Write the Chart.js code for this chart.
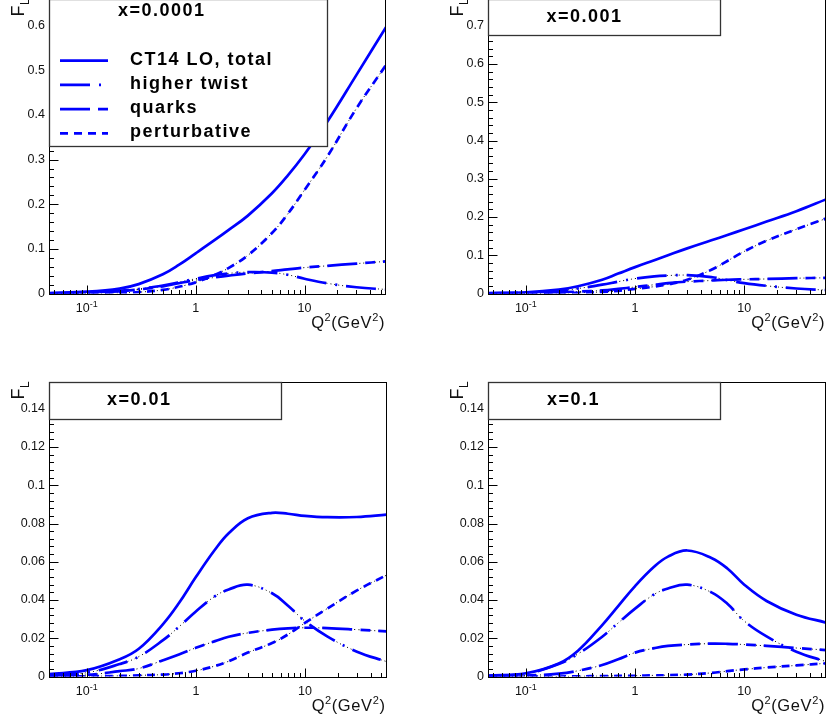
<!DOCTYPE html>
<html>
<head>
<meta charset="utf-8">
<script src="https://cdn.jsdelivr.net/npm/chart.js@4.4.0/dist/chart.umd.min.js"></script>
<style>
  html, body { margin: 0; padding: 0; background: #fff; }
  body { position: relative; width: 828px; height: 721px; overflow: hidden; }
  canvas { position: absolute; }
</style>
</head>
<body>
<canvas id="p1" width="414" height="360" style="left:0;top:-1px"></canvas>
<canvas id="p2" width="414" height="360" style="left:414px;top:-1px"></canvas>
<canvas id="p3" width="414" height="361" style="left:0;top:360px"></canvas>
<canvas id="p4" width="414" height="361" style="left:414px;top:360px"></canvas>
<script>
// Q^2 grid (GeV^2), shared by all panels
const q2 = [0.045, 0.1, 0.2, 0.3, 0.5, 0.7, 1, 1.5, 2, 3, 5, 7, 10, 16, 30, 56];

const seriesNames = ['CT14 LO, total', 'higher twist', 'quarks', 'perturbative'];
const panelTitles = ['x=0.0001', 'x=0.001', 'x=0.01', 'x=0.1'];

// x = 0.0001
const total1e4  = [0.001, 0.004, 0.011, 0.021, 0.043, 0.064, 0.09, 0.12, 0.142, 0.174, 0.224, 0.264, 0.312, 0.383, 0.49, 0.597];
const twist1e4  = [0.0005, 0.002, 0.006, 0.01, 0.018, 0.025, 0.033, 0.041, 0.045, 0.048, 0.047, 0.042, 0.033, 0.023, 0.014, 0.009];
const quarks1e4 = [0.0003, 0.0015, 0.005, 0.009, 0.016, 0.023, 0.03, 0.036, 0.04, 0.045, 0.05, 0.054, 0.058, 0.062, 0.067, 0.072];
const pert1e4   = [0, 0.0005, 0.0015, 0.003, 0.008, 0.015, 0.025, 0.042, 0.057, 0.085, 0.135, 0.178, 0.232, 0.305, 0.415, 0.512];

// x = 0.001
const total1e3  = [0.001, 0.003, 0.01, 0.019, 0.036, 0.052, 0.069, 0.087, 0.1, 0.118, 0.139, 0.153, 0.168, 0.188, 0.215, 0.246];
const twist1e3  = [0.0005, 0.002, 0.007, 0.013, 0.023, 0.031, 0.039, 0.045, 0.047, 0.048, 0.043, 0.035, 0.027, 0.02, 0.013, 0.009];
const quarks1e3 = [0.0002, 0.001, 0.003, 0.005, 0.008, 0.012, 0.017, 0.023, 0.027, 0.031, 0.034, 0.036, 0.037, 0.038, 0.04, 0.041];
const pert1e3   = [0, 0, 0.001, 0.002, 0.004, 0.007, 0.012, 0.018, 0.024, 0.036, 0.062, 0.085, 0.11, 0.138, 0.168, 0.196];

// x = 0.01
const total1e2  = [0.0012, 0.0033, 0.009, 0.0145, 0.0274, 0.0384, 0.052, 0.0664, 0.0749, 0.0828, 0.0856, 0.0851, 0.084, 0.0833, 0.0834, 0.0846];
const twist1e2  = [0.0005, 0.002, 0.0065, 0.0104, 0.019, 0.026, 0.034, 0.042, 0.0455, 0.048, 0.0435, 0.037, 0.029, 0.021, 0.013, 0.0078];
const quarks1e2 = [0.0002, 0.0008, 0.0028, 0.0042, 0.0085, 0.0115, 0.015, 0.0185, 0.0208, 0.0228, 0.0245, 0.0252, 0.0255, 0.0253, 0.0245, 0.0236];
const pert1e2   = [0, 0.0001, 0.0003, 0.0006, 0.001, 0.0017, 0.003, 0.0055, 0.008, 0.0125, 0.0175, 0.022, 0.028, 0.0355, 0.045, 0.053];

// x = 0.1
const total1e1  = [0.0005, 0.0017, 0.0068, 0.0135, 0.0269, 0.0368, 0.0473, 0.0575, 0.0627, 0.0659, 0.062, 0.0565, 0.048, 0.0395, 0.0323, 0.0282];
const twist1e1  = [0.0004, 0.0015, 0.0065, 0.0118, 0.0208, 0.028, 0.0355, 0.043, 0.046, 0.048, 0.044, 0.038, 0.029, 0.021, 0.013, 0.0078];
const quarks1e1 = [0.0001, 0.0005, 0.0015, 0.003, 0.006, 0.009, 0.0125, 0.0148, 0.016, 0.0167, 0.0172, 0.0171, 0.0167, 0.016, 0.0149, 0.0138];
const pert1e1   = [0, 0, 0, 0.0001, 0.0002, 0.0003, 0.0004, 0.0006, 0.0007, 0.001, 0.0019, 0.0028, 0.0037, 0.0047, 0.0058, 0.0069];

// axis ticks
const xTickValues = [0.1, 1, 10];
const xTickBase = ['10', '1', '10'];
const xTickSup = ['-1', '', ''];

const BLUE = '#0000ff';
const dashes = [[], [30, 9, 2, 9], [30, 8, 10, 8], [8, 6]];
const FONT = '"Liberation Sans", Arial, Helvetica, sans-serif';

function richText(ctx, parts, x, y, align) {
  let w = 0;
  parts.forEach(p => { ctx.font = p[1]; w += ctx.measureText(p[0]).width; });
  let cx = align === 'right' ? x - w : (align === 'center' ? x - w / 2 : x);
  ctx.textAlign = 'left';
  parts.forEach(p => {
    ctx.font = p[1];
    ctx.fillText(p[0], cx, y + (p[2] || 0));
    cx += ctx.measureText(p[0]).width;
  });
}

const rootFrame = {
  id: 'rootFrame',
  afterDatasetsDraw(chart, args, opts) {
    const { ctx, chartArea: a, scales: { x, y } } = chart;
    const L = Math.round(a.left) + 0.5, B = Math.round(a.bottom) + 0.5;
    const T = Math.round(a.top) + 0.5, R = Math.round(a.right) - 0.5;
    ctx.save();
    ctx.strokeStyle = '#000';
    ctx.lineWidth = 1;
    ctx.setLineDash([]);
    ctx.strokeRect(L, T, R - L, B - T);

    // y ticks (inside) and labels
    const minor = opts.yStep / 5;
    ctx.beginPath();
    for (let i = 0; i * minor <= y.max + 1e-9; i++) {
      const py = Math.round(y.getPixelForValue(i * minor)) + 0.5;
      ctx.moveTo(L, py);
      ctx.lineTo(L + (i % 5 === 0 ? 9 : 4.5), py);
    }
    // x ticks (log, inside)
    [0.01, 0.1, 1, 10].forEach(d => {
      for (let k = 1; k <= 9; k++) {
        const v = k * d;
        if (v < x.min || v > x.max) continue;
        const px = Math.round(x.getPixelForValue(v)) + 0.5;
        ctx.moveTo(px, B);
        ctx.lineTo(px, B - (k === 1 ? 9 : 4.5));
      }
    });
    ctx.stroke();

    ctx.fillStyle = '#111';
    ctx.textBaseline = 'middle';
    ctx.textAlign = 'right';
    ctx.font = '12.5px ' + FONT;
    for (let v = 0; v <= y.max + 1e-9; v += opts.yStep) {
      ctx.fillText(String(Math.round(v * 1000) / 1000), a.left - 4, y.getPixelForValue(v));
    }
    ctx.textBaseline = 'alphabetic';
    xTickValues.forEach((v, i) => {
      richText(ctx, [[xTickBase[i], '12.5px ' + FONT], [xTickSup[i], '9px ' + FONT, -5]],
        x.getPixelForValue(v), a.bottom + 18, 'center');
    });

    // axis titles
    ctx.letterSpacing = '0.6px';
    richText(ctx, [['Q', '16.5px ' + FONT], ['2', '11px ' + FONT, -7], ['(GeV', '16.5px ' + FONT],
      ['2', '11px ' + FONT, -7], [')', '16.5px ' + FONT]], a.right - 1, a.bottom + 34, 'right');
    ctx.letterSpacing = '0px';
    ctx.save();
    ctx.translate(a.left - 25, a.top + 17.5);
    ctx.rotate(-Math.PI / 2);
    ctx.font = '18px ' + FONT;
    ctx.fillText('F', 0, 0);
    const fw = ctx.measureText('F').width;
    ctx.font = '12px ' + FONT;
    ctx.fillText('L', fw + 0.5, 5);
    ctx.restore();

    // label box
    const bx = Math.round(a.left) + 0.5, by = Math.round(a.top) + 0.5;
    ctx.fillStyle = '#fff';
    ctx.fillRect(bx, by, opts.boxW, opts.boxH);
    ctx.strokeStyle = '#333';
    ctx.lineWidth = 1.3;
    ctx.strokeRect(bx, by, opts.boxW, opts.boxH);

    ctx.fillStyle = '#000';
    ctx.font = 'bold 18px ' + FONT;
    ctx.letterSpacing = '1.5px';
    ctx.textAlign = 'left';
    ctx.textBaseline = 'middle';
    ctx.fillText(opts.title, a.left + opts.titleX, a.top + opts.titleY);

    if (opts.legend) {
      seriesNames.forEach((name, i) => {
        const ly = a.top + 61.7 + i * 24.2;
        ctx.strokeStyle = BLUE;
        ctx.lineWidth = 2.7;
        ctx.setLineDash(dashes[i]);
        ctx.beginPath();
        ctx.moveTo(a.left + 11, ly);
        ctx.lineTo(a.left + 59, ly);
        ctx.stroke();
        ctx.fillText(name, a.left + 81, ly - 1);
      });
    }
    ctx.restore();
  }
};

function makeDatasets(series) {
  const sets = [];
  series.forEach((vals, i) => {
    const pts = q2.map((q, j) => ({ x: q, y: vals[j] }));
    sets.push({
      label: seriesNames[i], data: pts, borderColor: BLUE, borderWidth: 2.7,
      borderDash: dashes[i], order: 1
    });
    if (i > 0) {
      sets.push({
        label: '', data: pts, borderColor: '#000', borderWidth: 1,
        borderDash: [1, 3], order: 2
      });
    }
  });
  return sets;
}

const panels = [
  { id: 'p1', series: [total1e4, twist1e4, quarks1e4, pert1e4], yMax: 0.66, yStep: 0.1,
    pad: { left: 49, right: 28, top: 0, bottom: 65.5 }, boxW: 278, boxH: 147, titleX: 69, titleY: 12.5, legend: true },
  { id: 'p2', series: [total1e3, twist1e3, quarks1e3, pert1e3], yMax: 0.77, yStep: 0.1,
    pad: { left: 74, right: 2, top: 0, bottom: 65.5 }, boxW: 232, boxH: 36, titleX: 58.5, titleY: 18.5, legend: false },
  { id: 'p3', series: [total1e2, twist1e2, quarks1e2, pert1e2], yMax: 0.154, yStep: 0.02,
    pad: { left: 49, right: 27.5, top: 22, bottom: 44.5 }, boxW: 232, boxH: 37, titleX: 58, titleY: 18.5, legend: false },
  { id: 'p4', series: [total1e1, twist1e1, quarks1e1, pert1e1], yMax: 0.154, yStep: 0.02,
    pad: { left: 74, right: 2, top: 22, bottom: 44.5 }, boxW: 232, boxH: 37, titleX: 59, titleY: 18.5, legend: false }
];

panels.forEach((p, k) => {
  new Chart(document.getElementById(p.id), {
    type: 'line',
    data: { datasets: makeDatasets(p.series) },
    options: {
      responsive: false,
      animation: false,
      layout: { padding: p.pad },
      elements: {
        point: { radius: 0 },
        line: { tension: 0.4, borderCapStyle: 'butt', borderJoinStyle: 'round' }
      },
      scales: {
        x: { type: 'logarithmic', min: 0.045, max: 56, display: false },
        y: { type: 'linear', min: 0, max: p.yMax, display: false }
      },
      plugins: {
        legend: { display: false },
        tooltip: { enabled: false },
        rootFrame: { yStep: p.yStep, boxW: p.boxW, boxH: p.boxH, title: panelTitles[k],
          titleX: p.titleX, titleY: p.titleY, legend: p.legend }
      }
    },
    plugins: [rootFrame]
  });
});
</script>
</body>
</html>
